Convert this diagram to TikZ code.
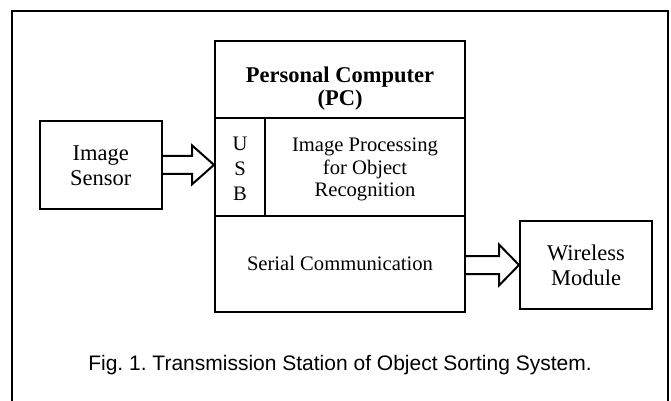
\documentclass[tikz,border=0pt]{standalone}
\usepackage{fontspec}
\setmainfont{Liberation Serif}
\newfontfamily\capfont{Liberation Sans}
\usetikzlibrary{calc}
\frenchspacing

\tikzset{
  blk/.style={draw, line width=2pt, rectangle, inner sep=0pt},
  big/.style={font=\fontsize{22.5}{25}\selectfont, anchor=base, inner sep=0pt},
  bigb/.style={font=\fontsize{22.5}{25}\selectfont\bfseries, anchor=base, inner sep=0pt},
  small/.style={font=\fontsize{20.6}{23}\selectfont, anchor=base, inner sep=0pt},
  hollow/.style={draw, line width=2pt, line join=miter},
}

\begin{document}
\begin{tikzpicture}[x=1pt, y=-1pt]
\useasboundingbox (0,0) rectangle (671,400);

% frame around the figure (open at the foot of the page)
\draw[line width=2pt] (11.7,402) |- (668,10.7) -- (668,402);

% blocks
\node[blk, minimum width=121.7pt, minimum height=88.3pt] (sensor) at (100.85,164.85) {};
\node[blk, minimum width=250pt, minimum height=77.3pt] (header) at (340,79.35) {};
\node[blk, minimum width=50pt, minimum height=97.5pt] (usb) at (240,166.75) {};
\node[blk, minimum width=200pt, minimum height=97.5pt] (proc) at (365,166.75) {};
\node[blk, minimum width=250pt, minimum height=96.2pt] (serial) at (340,263.6) {};
\node[blk, minimum width=132pt, minimum height=88pt] (wireless) at (586,265) {};

% block texts
\node[big] (sensorA) at (100.85,160) {Image};
\node[big] (sensorB) at (100.85,185) {Sensor};

\node[bigb] (headA) at (340,82) {Personal Computer};
\node[bigb] (headB) at (340,105) {(PC)};

\node[small] (usbU) at (240,150) {U};
\node[small] (usbS) at (240,175) {S};
\node[small] (usbB) at (240,200.5) {B};

\node[small] (procA) at (365,151.5) {Image Processing};
\node[small] (procB) at (365,174) {for Object};
\node[small] (procC) at (365,196.5) {Recognition};

\node[small] (serialA) at (340,270) {Serial Communication};

\node[big] (wirelessA) at (586,260) {Wireless};
\node[big] (wirelessB) at (586,285) {Module};

% hollow block arrows
\coordinate (s1) at (sensor.east);
\coordinate (t1) at (usb.west |- sensor.east);
\draw[hollow] ($(s1)+(0,-9)$) -- ($(t1)+(-22,-9)$) -- ($(t1)+(-22,-19.5)$)
  -- (t1) -- ($(t1)+(-22,19.5)$) -- ($(t1)+(-22,9)$) -- ($(s1)+(0,9)$);

\coordinate (s2) at (serial.east |- wireless.west);
\coordinate (t2) at (wireless.west);
\draw[hollow] ($(s2)+(0,-9)$) -- ($(t2)+(-20,-9)$) -- ($(t2)+(-20,-20.5)$)
  -- (t2) -- ($(t2)+(-20,20.5)$) -- ($(t2)+(-20,9)$) -- ($(s2)+(0,9)$);

% caption
\node[font=\capfont\fontsize{21}{25}\selectfont, anchor=base, inner sep=0pt] (caption)
  at (340,370) {Fig. 1. Transmission Station of Object Sorting System.};
\end{tikzpicture}
\end{document}
